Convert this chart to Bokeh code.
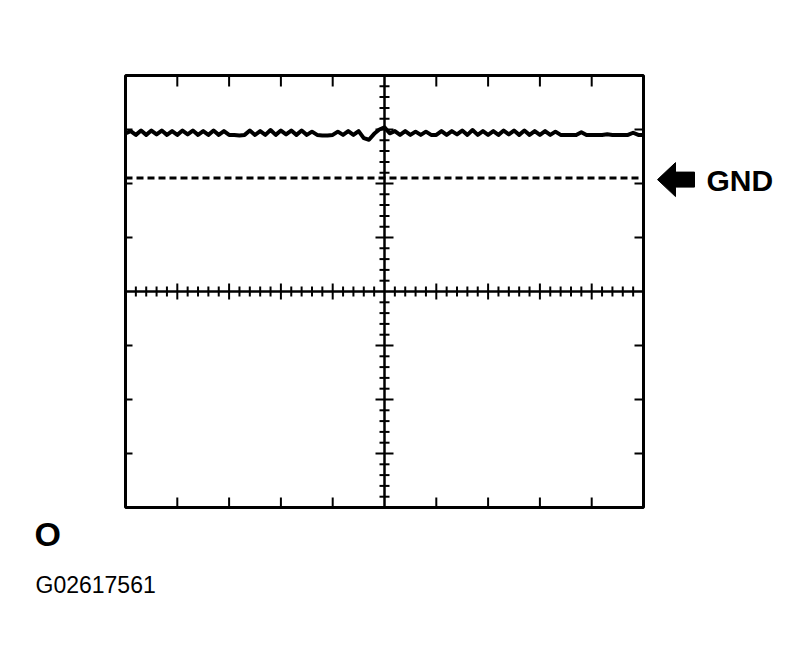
import numpy as np
from bokeh.plotting import figure
from bokeh.models import Range1d
from bokeh.core.properties import value
from bokeh.embed import file_html
from bokeh.resources import INLINE

# ---------------- data ----------------
# scope trace (divisions) at 0.1-division steps
trace_y = [
    2.93, 2.97, 2.90, 2.98, 2.90, 2.98, 2.91, 2.98, 2.90, 2.97,
    2.90, 2.98, 2.91, 2.98, 2.90, 2.97, 2.90, 2.98, 2.90, 2.97,
    2.90, 2.90, 2.89, 2.90, 2.98, 2.90, 2.97, 2.90, 2.99, 2.90,
    2.98, 2.91, 2.98, 2.90, 2.98, 2.90, 2.96, 2.90, 2.89, 2.89,
    2.90, 2.96, 2.90, 2.97, 2.90, 2.97, 2.84, 2.81, 2.92, 3.00,
    3.04, 2.93, 2.97, 2.90, 2.97, 2.90, 2.96, 2.90, 2.96, 2.90,
    2.90, 2.97, 2.90, 2.97, 2.91, 2.98, 2.90, 2.99, 2.90, 2.97,
    2.90, 2.97, 2.90, 2.98, 2.91, 2.98, 2.90, 2.98, 2.90, 2.97,
    2.90, 2.97, 2.90, 2.96, 2.90, 2.90, 2.90, 2.90, 2.95, 2.90,
    2.90, 2.90, 2.90, 2.91, 2.90, 2.90, 2.90, 2.90, 2.94, 2.90,
    2.90,
]
gnd_level = 2.1
x_divisions = list(range(0, 11))
y_divisions = list(range(-4, 5))
minor_per_div = 5
channel_label = "O"
figure_code = "G02617561"
gnd_label = "GND"

# ---------------- layout ----------------
W, H = 801, 659
FL, FR, FT, FB = 125, 643, 75, 507   # graticule box in canvas pixels
x0d, x1d = x_divisions[0], x_divisions[-1]
y0d, y1d = y_divisions[0], y_divisions[-1]
pxx = (FR - FL) / (x1d - x0d)
pxy = (FB - FT) / (y1d - y0d)
xc = (x0d + x1d) / 2
yc = (y0d + y1d) / 2

p = figure(
    width=W, height=H,
    x_range=Range1d(x0d - FL / pxx, x1d + (W - FR) / pxx),
    y_range=Range1d(y0d - (H - FB) / pxy, y1d + FT / pxy),
    x_axis_type=None, y_axis_type=None,
    toolbar_location=None, output_backend="svg",
    min_border=0, outline_line_color=None,
    background_fill_color="white", border_fill_color="white",
)

# graticule box
p.quad(left=x0d, right=x1d, bottom=y0d, top=y1d,
       fill_color=None, line_color="black", line_width=3)

# centre cross
p.segment(x0=[x0d, xc], y0=[yc, y0d], x1=[x1d, xc], y1=[yc, y1d],
          line_color="black", line_width=2.5)

# minor / major ticks on the centre horizontal line
hx = np.arange(x0d * minor_per_div + 1, x1d * minor_per_div) / minor_per_div
hx = hx[np.abs(hx - xc) > 1e-9]
hmaj = np.isclose(hx, np.round(hx))
hlen = np.where(hmaj, 8, 5) / pxy
p.segment(x0=hx, y0=yc - hlen, x1=hx, y1=yc + hlen,
          line_color="black", line_width=2)

# minor / major ticks on the centre vertical line
vy = np.arange(y0d * minor_per_div + 1, y1d * minor_per_div) / minor_per_div
vy = vy[np.abs(vy - yc) > 1e-9]
vmaj = np.isclose(vy, np.round(vy))
vlen = np.where(vmaj, 9, 5) / pxx
p.segment(x0=xc - vlen, y0=vy, x1=xc + vlen, y1=vy,
          line_color="black", line_width=2)

# edge ticks
ex = [x for x in x_divisions[1:-1] if x != xc]
p.segment(x0=ex, y0=[y1d] * len(ex), x1=ex, y1=[y1d - 11 / pxy] * len(ex),
          line_color="black", line_width=2)
p.segment(x0=ex, y0=[y0d] * len(ex), x1=ex, y1=[y0d + 10 / pxy] * len(ex),
          line_color="black", line_width=2)
ey = [y for y in y_divisions[1:-1] if y != yc]
p.segment(x0=[x0d] * len(ey), y0=ey, x1=[x0d + 7 / pxx] * len(ey), y1=ey,
          line_color="black", line_width=2)
p.segment(x0=[x1d] * len(ey), y0=ey, x1=[x1d - 9 / pxx] * len(ey), y1=ey,
          line_color="black", line_width=2)

# GND reference (dashed)
p.line([x0d, x1d], [gnd_level, gnd_level], line_color="black",
       line_width=3, line_dash="7 4")

# trace
trace_x = np.linspace(x0d, x1d, len(trace_y))
p.line(trace_x, trace_y, line_color="black", line_width=4, line_join="round")

# GND arrow (shape in pixels, relative to its tip)
shape_dx = [0, 18, 18, 37, 37, 18, 18]
shape_dy = [0, 17, 7.5, 7.5, -7.5, -7.5, -17]
tip_x = x1d + 14 / pxx
tip_y = gnd_level - 1.5 / pxy
p.patch([tip_x + d / pxx for d in shape_dx],
        [tip_y + d / pxy for d in shape_dy],
        fill_color="black", line_color="black", line_width=1)

font = value("Liberation Sans")
p.text(x=[x1d + 63 / pxx], y=[gnd_level - 2.5 / pxy], text=[gnd_label],
       text_font=font, text_font_size="30px", text_font_style="bold",
       text_align="left", text_baseline="middle", text_color="black")
p.text(x=[x0d - 91 / pxx], y=[y0d - 26 / pxy], text=[channel_label],
       text_font=font, text_font_size="34px", text_font_style="bold",
       text_align="left", text_baseline="middle", text_color="black")
p.text(x=[x0d - 90 / pxx], y=[y0d - 77 / pxy], text=[figure_code],
       text_font=font, text_font_size="23px",
       text_align="left", text_baseline="middle", text_color="black")

open("out.html", "w").write(file_html(p, INLINE))
